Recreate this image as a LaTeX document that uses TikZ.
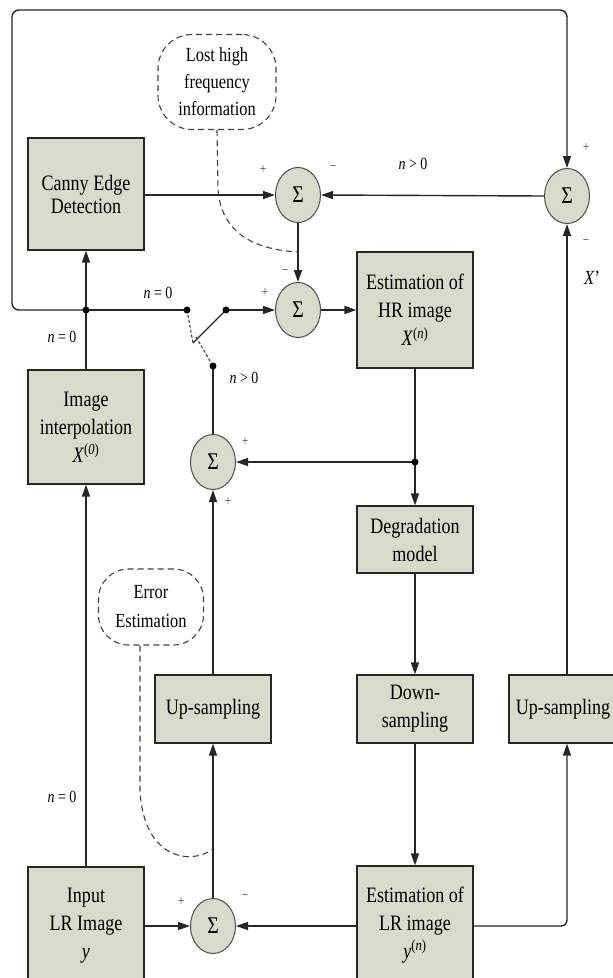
\documentclass[tikz,border=0pt]{standalone}
\usepackage{fontspec}
\setmainfont{Liberation Serif}[FakeStretch=0.82]
\usetikzlibrary{arrows.meta,shapes.geometric}
\definecolor{boxfill}{RGB}{216,218,202}
\newcommand{\supvar}[2]{\textit{#1}\textsuperscript{(\textit{#2})}}
\begin{document}
\begin{tikzpicture}[x=1pt,y=-1pt,
  box/.style={draw=black!85, line width=1.2pt, fill=boxfill, minimum width=116pt, align=center, font=\fontsize{22}{28}\selectfont, inner sep=0pt},
  sig/.style={draw=black!70, line width=1pt, fill=boxfill, ellipse, minimum width=45pt, minimum height=55pt, inner sep=0pt, font=\fontsize{24}{24}\selectfont},
  wire/.style={line width=1.4pt, draw=black!85},
  arr/.style={wire, -{Triangle[length=12pt,width=8pt]}},
  cloudbox/.style={draw=black!75, dash pattern=on 6pt off 4pt, line width=1.1pt, rounded corners=34pt, align=center, font=\fontsize{20}{27}\selectfont, inner sep=0pt},
  dashcurve/.style={draw=black!75, dash pattern=on 6pt off 4pt, line width=1.1pt},
  jdot/.style={circle, fill=black, inner sep=0pt, minimum size=7pt},
  lbl/.style={font=\fontsize{17}{17}\selectfont, inner sep=0pt},
  pm/.style={font=\fontsize{14}{14}\selectfont, inner sep=0pt, text=black!75}
]
\useasboundingbox (0,0) rectangle (613,978);

% boxes
\node[box, minimum height=112pt, font=\fontsize{22}{23}\selectfont] (canny) at (86,194) {Canny Edge\\Detection};
\node[box, minimum height=114pt] (interp) at (86,427) {Image\\interpolation\\\supvar{X}{0}};
\node[box, minimum height=118pt] (input) at (86,926) {Input\\LR Image\\\textit{y}};
\node[box, minimum height=116pt] (hr) at (415,310) {Estimation of\\HR image\\\supvar{X}{n}};
\node[box, minimum height=67pt] (degr) at (415,539.5) {Degradation\\model};
\node[box, minimum height=68pt] (down) at (415,709) {Down-\\sampling};
\node[box, minimum height=118pt] (estlr) at (415,925) {Estimation of\\LR image\\\supvar{y}{n}};
\node[box, minimum height=68pt] (upl) at (213,709) {Up-sampling};
\node[box, minimum height=68pt, minimum width=108pt] (upr) at (563,709) {Up-sampling};

% summing junctions
\node[sig] (s1) at (298,195) {Σ};
\node[sig] (s2) at (298,310) {Σ};
\node[sig] (s3) at (567,196) {Σ};
\node[sig] (s4) at (213,462) {Σ};
\node[sig] (s5) at (213,926) {Σ};

% clouds
\node[cloudbox, minimum width=118pt, minimum height=95pt] (lost) at (217,82) {Lost high\\frequency\\information};
\node[cloudbox, rounded corners=30pt, minimum width=105pt, minimum height=76pt, font=\fontsize{20}{29}\selectfont] (err) at (151,607) {Error\\Estimation};

% coordinates
\coordinate (j1) at (86,310);
\coordinate (swl) at (187,310);
\coordinate (swr) at (226,310);
\coordinate (swm) at (193,343);
\coordinate (swb) at (213,366);
\coordinate (j2) at (415,462);
\coordinate (p1) at (298,252);
\coordinate (p2) at (213,849);

% connectors
\draw[arr] (canny.east |- s1) -- (s1.west);
\draw[arr] (s3.west) -- (s1.east);
\draw[arr] (s1.south) -- (s2.north);
\draw[arr] (swr) -- (s2.west);
\draw[arr, line width=1.8pt] (s2.east) -- (hr.west);
\draw[arr] (hr.south) -- (degr.north);
\draw[arr] (j2) -- (s4.east);
\draw[arr] (degr.south) -- (down.north);
\draw[arr] (down.south) -- (estlr.north);
\draw[arr] (estlr.west |- s5) -- (s5.east);
\draw[arr] (input.east |- s5) -- (s5.west);
\draw[arr] (s5.north) -- (upl.south);
\draw[arr] (upl.north) -- (s4.south);
\draw[wire] (s4.north) -- (swb);
\draw[arr, rounded corners=6pt] (estlr.east |- s5) -| (s3 |- upr.south);
\draw[arr] (s3 |- upr.north) -- (s3.south);
\draw[arr, rounded corners=7pt] (j1) -- (12,310) -- (12,10) -| (s3.north);
\draw[arr] (j1) -- (canny.south);
\draw[wire] (interp.north) -- (j1);
\draw[wire] (j1) -- (swl);
\draw[arr] (input.north) -- (interp.south);

% switch
\draw[wire] (swr) -- (swm);
\draw[dashcurve, dash pattern=on 3pt off 2pt] (swl) -- (swm);
\draw[dashcurve, dash pattern=on 3pt off 2pt] ([shift={(3pt,6pt)}]swm) -- (swb);

% dashed pointers
\draw[dashcurve] (lost.south) -- (218,190) .. controls (222,238) and (262,250) .. (p1);
\draw[dashcurve] ([xshift=-11pt]err.south) -- (140,790) .. controls (143,858) and (190,866) .. (p2);

% dots
\foreach \p in {j1,swl,swr,swb,j2} \node[jdot] at (\p) {};

% signs
\node[pm] at (263,170) {+};
\node[pm] at (333,168) {−};
\node[pm] at (586,148) {+};
\node[pm] at (586,242) {−};
\node[pm] at (265,293) {+};
\node[pm] at (285,272) {−};
\node[pm] at (245,442) {+};
\node[pm] at (228,502) {+};
\node[pm] at (181,902) {+};
\node[pm] at (245,897) {−};

% labels
\node[lbl] at (413,164) {\textit{n} > 0};
\node[lbl] at (158,293) {\textit{n} = 0};
\node[lbl] at (244,378) {\textit{n} > 0};
\node[lbl] at (62,337) {\textit{n} = 0};
\node[lbl] at (62,797) {\textit{n} = 0};
\node[lbl, font=\fontsize{20}{20}\selectfont] at (592,278) {\textit{X}'};
\end{tikzpicture}
\end{document}
